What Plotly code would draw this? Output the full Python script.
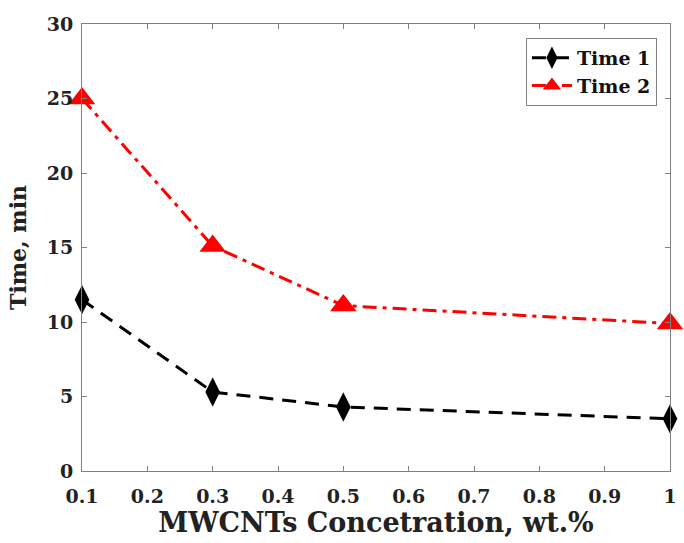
import plotly.graph_objects as go

# MWCNT concentration (wt.%) and measured times (min)
concentration = [0.1, 0.3, 0.5, 1.0]
time_1 = [11.5, 5.3, 4.3, 3.5]
time_2 = [25.0, 15.1, 11.1, 9.9]

x_ticks = [0.1, 0.2, 0.3, 0.4, 0.5, 0.6, 0.7, 0.8, 0.9, 1.0]
x_tick_text = ["0.1", "0.2", "0.3", "0.4", "0.5", "0.6", "0.7", "0.8", "0.9", "1"]
y_ticks = [0, 5, 10, 15, 20, 25, 30]

FONT = "DejaVu Serif"
AXIS_GREY = "#808080"
TEXT = "#222222"


def bold(labels):
    return ["<b>%s</b>" % t for t in labels]


fig = go.Figure()
fig.add_trace(go.Scatter(
    x=concentration, y=time_1, name="<b>Time 1</b>",
    mode="lines+markers",
    line=dict(color="black", width=3, dash="14px,9px"),
    marker=dict(symbol="diamond-tall", size=21, color="black"),
    cliponaxis=False,
))
fig.add_trace(go.Scatter(
    x=concentration, y=time_2, name="<b>Time 2</b>",
    mode="lines+markers",
    line=dict(color="#ff0000", width=3, dash="14px,6px,4px,6px"),
    marker=dict(symbol="triangle-up", size=23, color="#ff0000"),
    cliponaxis=False,
))

axis_common = dict(
    showgrid=False, zeroline=False,
    showline=True, linecolor=AXIS_GREY, linewidth=1, mirror="allticks",
    ticks="inside", ticklen=5, tickcolor=AXIS_GREY,
    tickfont=dict(family=FONT, size=19, color=TEXT),
)

fig.update_xaxes(
    range=[0.1, 1.0], tickvals=x_ticks, ticktext=bold(x_tick_text),
    ticklabelstandoff=8,
    title=dict(text="<b>MWCNTs Concetration, wt.%</b>",
               font=dict(family=FONT, size=27, color=TEXT), standoff=5),
    **axis_common,
)
fig.update_yaxes(
    range=[0, 30], tickvals=y_ticks, ticktext=bold([str(v) for v in y_ticks]),
    ticklabelstandoff=4,
    title=dict(text="<b>Time, min</b>",
               font=dict(family=FONT, size=22, color=TEXT), standoff=14),
    **axis_common,
)

fig.update_layout(
    width=684, height=543,
    margin=dict(l=82, r=7, t=24, b=72),
    paper_bgcolor="white", plot_bgcolor="white",
    font=dict(family=FONT, color=TEXT),
    legend=dict(
        x=0.755, y=0.969, xanchor="left", yanchor="top",
        bordercolor=AXIS_GREY, borderwidth=1, bgcolor="white",
        font=dict(family=FONT, size=19, color="#111"),
        tracegroupgap=0, itemwidth=40,
    ),
)

fig.write_html("out.html")
